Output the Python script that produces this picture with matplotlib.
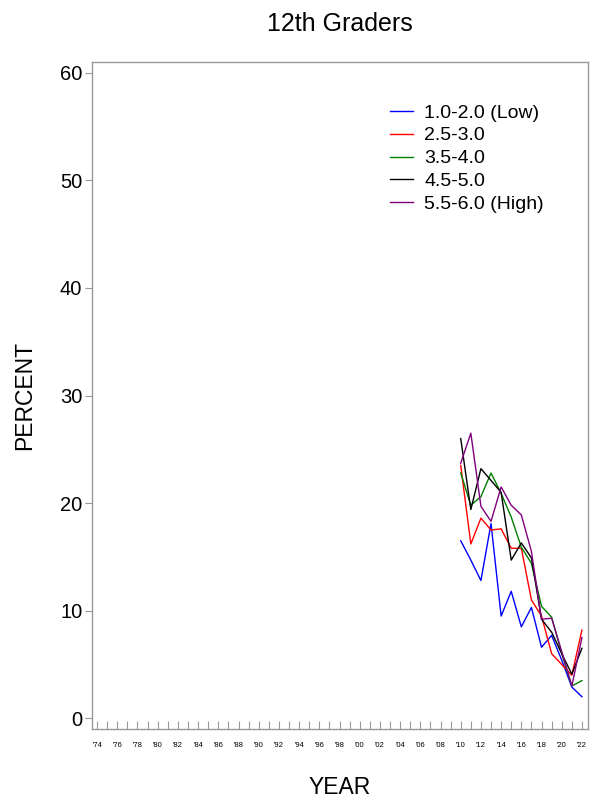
import matplotlib
matplotlib.use("Agg")
import matplotlib.pyplot as plt

plt.rcParams['font.family'] = ['Liberation Sans', 'DejaVu Sans']

years = list(range(2010, 2023))
labels = ["1.0-2.0 (Low)", "2.5-3.0", "3.5-4.0", "4.5-5.0", "5.5-6.0 (High)"]
colors = ["#0000ff", "#ff0000", "#008000", "#000000", "#800080"]

low = [16.5, 14.7, 12.8, 18.1, 9.5, 11.8, 8.5, 10.3, 6.6, 7.7, 5.4, 2.9, 2.0]
mid_low = [23.5, 16.2, 18.6, 17.5, 17.6, 15.8, 15.8, 11.0, 9.5, 6.0, 5.0, 4.0, 8.2]
mid = [22.8, 19.8, 20.6, 22.8, 20.9, 18.7, 15.9, 14.4, 10.4, 9.4, 6.0, 3.0, 3.5]
mid_high = [26.0, 19.4, 23.2, 22.1, 21.0, 14.7, 16.3, 14.9, 9.2, 8.0, 6.0, 4.1, 6.5]
high = [23.7, 26.5, 19.7, 18.3, 21.5, 19.8, 18.9, 15.5, 9.2, 9.3, 6.2, 3.0, 7.5]

tick_years = list(range(1974, 2023))
label_years = list(range(1974, 2023, 2))

fig = plt.figure(figsize=(5.9, 7.99), dpi=100)
ax = fig.add_axes([0.156, 0.0876, 0.8406, 0.8348])

for vals, lab, col in zip([low, mid_low, mid, mid_high, high], labels, colors):
    ax.plot(years, vals, color=col, lw=1.0, label=lab)

ax.set_xlim(1973.5, 2022.6)
ax.set_ylim(-1.0, 61.0)

for s in ax.spines.values():
    s.set_color("#999999")
    s.set_linewidth(1.0)

ax.set_yticks([0, 10, 20, 30, 40, 50, 60])
ax.tick_params(axis="y", direction="out", length=5, color="#999999",
               labelsize=14.5, pad=2)

# year ticks sit on the bottom spine and point inward
ax.set_xticks(tick_years)
ax.set_xticklabels(["'%02d" % (y % 100) if y in label_years else "" for y in tick_years])
ax.tick_params(axis="x", direction="in", length=6, color="#999999",
               labelsize=5.5, pad=9)

ax.set_title("12th Graders", fontsize=18, pad=22)
ax.set_ylabel("PERCENT", fontsize=16.5, labelpad=17)
ax.set_xlabel("YEAR", fontsize=16.5, labelpad=20)

ax.legend(loc="upper left", bbox_to_anchor=(0.601, 0.937), frameon=False,
          fontsize=14, handlelength=1.2, handletextpad=0.55, labelspacing=0.27,
          borderaxespad=0, borderpad=0)

fig.savefig("out.png", dpi=100)
